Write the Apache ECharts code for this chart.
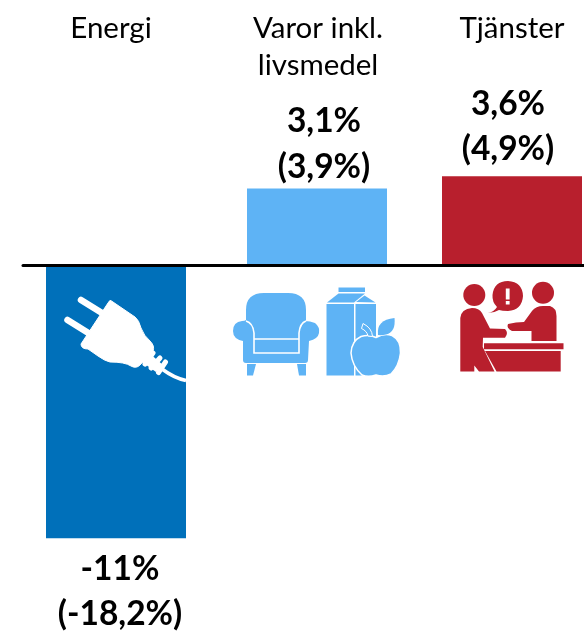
<!DOCTYPE html>
<html>
<head>
<meta charset="utf-8">
<style>html,body{margin:0;padding:0;background:#fff}#chart{width:584px;height:631px}</style>
<script src="https://cdn.jsdelivr.net/npm/echarts@6/dist/echarts.min.js"></script>
</head>
<body>
<div id="chart"></div>
<script>
const categories = ['Energi', 'Varor inkl.\nlivsmedel', 'Tjänster'];
const currentValues = [-11, 3.1, 3.6];
const previousValues = [-18.2, 3.9, 4.9];

const barColors = ['#0070BA', '#5EB3F5', '#B81F2D'];
const barCenters = [116, 317, 512];
const labelShift = [[4, 0], [7, 9], [-4, 4]];
const headingCenters = [111, 318, 512];
const FONT = 'Lato, "Open Sans", sans-serif';

const fmt = v => String(v).replace('.', ',') + '%';
const W = '#ffffff';

// Stroked white plug on the energy bar
const plug = [
  { type: 'polyline', shape: { points: [[81, 300], [102, 313]] }, style: { stroke: W, lineWidth: 6.5, lineCap: 'round', fill: null } },
  { type: 'polyline', shape: { points: [[67.5, 320], [90, 334]] }, style: { stroke: W, lineWidth: 6.5, lineCap: 'round', fill: null } },
  { type: 'path', shape: { pathData: 'M111.5,301 L135,317 Q139,320 141,328 Q144,336 150,341 Q155,346 153,351 L140,365 Q136,369 131,366 Q125,362 110,362 Q105,361 98,356 L88,349 Q81,349 81,344 L108,303 Q110,299 111.5,301 Z' }, style: { fill: W, stroke: W, lineWidth: 1, lineJoin: 'round' } },
  { type: 'polyline', shape: { points: [[153, 353], [145, 364]] }, style: { stroke: W, lineWidth: 5, lineCap: 'round', fill: null } },
  { type: 'polyline', shape: { points: [[160, 358], [151, 368]] }, style: { stroke: W, lineWidth: 5, lineCap: 'round', fill: null } },
  { type: 'polyline', shape: { points: [[165.5, 362], [158.5, 372.5]] }, style: { stroke: W, lineWidth: 5, lineCap: 'round', fill: null } },
  { type: 'polygon', shape: { points: [[148, 352], [163, 365], [156, 372], [142, 362]] }, style: { fill: W } },
  { type: 'path', shape: { pathData: 'M162,369 Q174,378 186,380.5' }, style: { stroke: W, lineWidth: 3.5, fill: null } }
];

// Armchair, milk carton and apple under the goods bar
const BL = barColors[1];
const goods = [
  { type: 'path', shape: { pathData: 'M246,320 L246,310 Q246,293 264,293 L288,293 Q306,293 306,310 L306,320 Q306,322 305,321 Q310,321 315,323 Q320,327 319,333 Q318,339 309,341 L308,360 Q308,363 305,363 L246,363 Q243,363 243,360 L243,341 Q233,339 233,331 Q233,322 242,321 Q245,321 246,320 Z' }, style: { fill: BL } },
  { type: 'polygon', shape: { points: [[247, 364], [256, 364], [253, 375.5], [247, 375.5]] }, style: { fill: BL } },
  { type: 'polygon', shape: { points: [[297, 364], [306, 364], [306, 375.5], [299, 375.5]] }, style: { fill: BL } },
  { type: 'path', shape: { pathData: 'M246,321 Q253,323 254,333 L254,353 L299,353 L299,333 Q300,323 306,321' }, style: { stroke: W, lineWidth: 1.6, fill: null } },
  { type: 'polyline', shape: { points: [[254, 339], [299, 339]] }, style: { stroke: W, lineWidth: 1.6, fill: null } },
  { type: 'rect', shape: { x: 338.5, y: 287.5, width: 26.5, height: 4.5 }, style: { fill: BL } },
  { type: 'polygon', shape: { points: [[327, 302.5], [338.5, 293.5], [365, 293.5], [354, 302.5]] }, style: { fill: BL } },
  { type: 'polygon', shape: { points: [[356, 302], [364.5, 295.5], [375.5, 302.5]] }, style: { fill: BL } },
  { type: 'rect', shape: { x: 326.5, y: 304, width: 27.5, height: 71.5 }, style: { fill: BL } },
  { type: 'rect', shape: { x: 355.5, y: 304, width: 20.5, height: 71.5 }, style: { fill: BL } },
  { type: 'path', shape: { pathData: 'M376,337.5 Q384,333 392,335.5 Q401,340 400.5,353 Q399,366 391,374 Q384,377.5 376,375 Q368,377.5 362,375 Q352,366 351,353 Q351.5,341 361,336.5 Q369,334 376,337.5 Z' }, style: { fill: BL, stroke: W, lineWidth: 1.5 } },
  { type: 'path', shape: { pathData: 'M363,323.5 L361.5,328.5 Q367,331 368,336 L372.5,336.5 Q372,328 363,323.5 Z' }, style: { fill: BL, stroke: W, lineWidth: 1 } },
  { type: 'path', shape: { pathData: 'M378,335 Q376,320 394.5,318 Q396,332 386,334.5 Q382,335.5 378,335 Z' }, style: { fill: BL } }
];

// Two people at a counter under the services bar
const RD = barColors[2];
const services = [
  { type: 'circle', shape: { cx: 474.3, cy: 295, r: 11 }, style: { fill: RD } },
  { type: 'circle', shape: { cx: 543, cy: 292.7, r: 11 }, style: { fill: RD } },
  { type: 'path', shape: { pathData: 'M488,313 Q494,312 497,307 Q492,302 492.5,295 Q494,281 508,281 Q522.5,282 523,296 Q522,310 508,311 Q502,311 499,310 Q494,313 488,313 Z' }, style: { fill: RD } },
  { type: 'rect', shape: { x: 505.8, y: 288.5, width: 3.8, height: 11 }, style: { fill: W } },
  { type: 'rect', shape: { x: 505.8, y: 301, width: 3.8, height: 3.5 }, style: { fill: W } },
  { type: 'path', shape: { pathData: 'M460.3,318 Q461,309 472,308 Q479,308 482,313 L490,328.5 L505,329 Q509,333 505,337.7 L483,337.7 L482.7,347 L494.5,371.5 L479,371.5 L474.3,365.5 L474.3,371.5 L460.3,371.5 Z' }, style: { fill: RD } },
  { type: 'path', shape: { pathData: 'M484,343.3 L563.5,343.3 L563.5,349.3 L484,349.3 Z' }, style: { fill: RD } },
  { type: 'path', shape: { pathData: 'M485,351 L560.7,351 L560.7,371.5 L496.5,371.5 Z' }, style: { fill: RD } },
  { type: 'path', shape: { pathData: 'M508,324 Q516,322 524,322 L532,311 Q536,306 543,306 L550,306 Q556.5,308 556.5,316 L556.5,341 L531.5,341 L531.5,331 L512,331 Q506,328 508,324 Z' }, style: { fill: RD } }
];

const headings = categories.map((name, i) => ({
  type: 'text',
  x: headingCenters[i],
  y: 10,
  style: { text: name, font: '29.5px ' + FONT, fill: '#000', align: 'center', verticalAlign: 'top', lineHeight: 37 }
}));

const chart = echarts.init(document.getElementById('chart'), null, { renderer: 'canvas' });
chart.setOption({
  animation: false,
  backgroundColor: '#fff',
  grid: { left: 23, top: 17.5, width: 561, height: 545.6 },
  xAxis: {
    type: 'value', min: 23, max: 584, splitLine: { show: false },
    axisTick: { show: false }, axisLabel: { show: false },
    axisLine: { show: true, onZero: true, lineStyle: { color: '#000', width: 3 } }, z: 5
  },
  yAxis: { type: 'value', min: -12, max: 10, show: false, splitLine: { show: false } },
  series: [{
    type: 'bar',
    barWidth: 140,
    data: currentValues.map((v, i) => ({
      value: [barCenters[i], v],
      itemStyle: { color: barColors[i] },
      label: {
        show: true,
        position: v < 0 ? 'bottom' : 'top',
        distance: 8,
        offset: labelShift[i],
        formatter: fmt(v) + '\n(' + fmt(previousValues[i]) + ')',
        fontFamily: 'Lato, "Open Sans", sans-serif',
        fontWeight: 'bold',
        fontSize: 33.5,
        lineHeight: 45.5,
        color: '#000',
        align: 'center'
      }
    }))
  }, {
    // Pictograms share the bars' coordinate system but carry no value of their own
    type: 'custom',
    silent: true,
    z: 10,
    clip: false,
    data: [[0, 0]],
    renderItem: () => ({ type: 'group', children: plug.concat(goods, services) })
  }],
  graphic: headings
});
</script>
</body>
</html>
